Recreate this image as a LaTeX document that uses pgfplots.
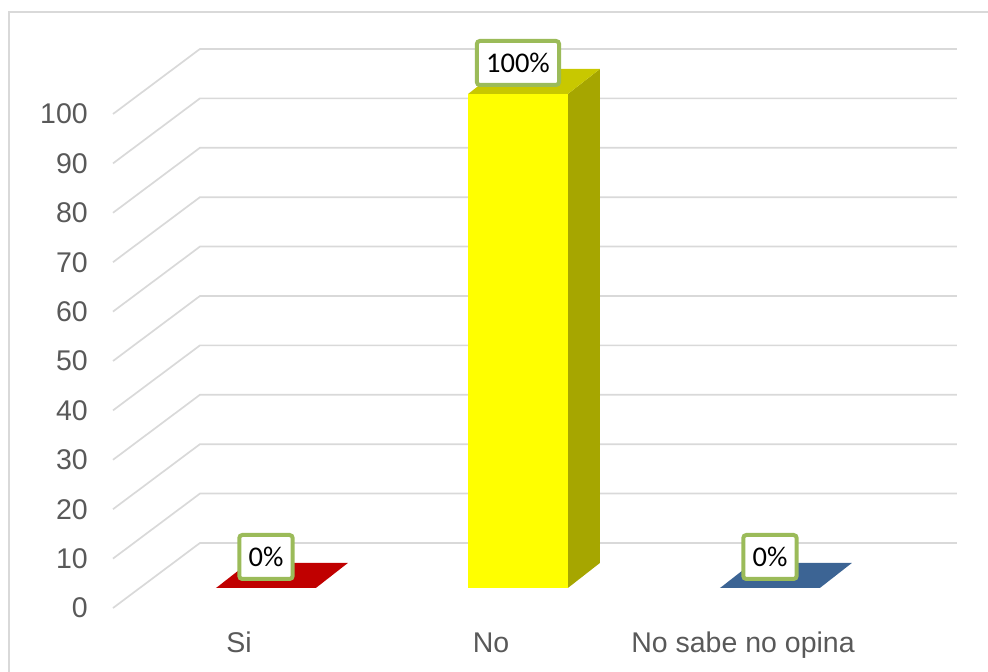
\documentclass[border=0pt]{standalone}
\usepackage{fontspec}
\setmainfont{Liberation Sans}
\newfontfamily\lblfont{Carlito}
\usepackage{pgfplots}
\pgfplotsset{compat=1.18}
\definecolor{gridc}{RGB}{217,217,217}
\definecolor{tickc}{RGB}{89,89,89}
\definecolor{sired}{RGB}{192,0,0}
\definecolor{noyel}{RGB}{255,255,0}
\definecolor{notop}{RGB}{200,200,0}
\definecolor{noside}{RGB}{166,166,0}
\definecolor{nsblue}{RGB}{60,100,148}
\definecolor{lblgreen}{RGB}{155,187,89}
\begin{document}
\begin{tikzpicture}[x=1pt,y=1pt]
\useasboundingbox (0,0) rectangle (988,672);
\draw[gridc, line width=1.8pt] (9,-2) -- (9,660) -- (990,660);
\begin{axis}[
  at={(113pt,64pt)}, anchor=south west, scale only axis,
  width=757pt, height=494pt,
  xmin=-0.607, xmax=2.397, ymin=-4.05, ymax=95.95,
  clip=false, axis line style={draw=none}, major tick length=0pt,
  ytick={-4.05,5.95,15.95,25.95,35.95,45.95,55.95,65.95,75.95,85.95,95.95},
  yticklabels={0,10,20,30,40,50,60,70,80,90,100},
  xtick={-0.107,0.893,1.893},
  xticklabels={Si,No,No sabe no opina},
  tick label style={font=\fontsize{28.5}{34}\selectfont, text=tickc, inner sep=0pt},
  yticklabel style={anchor=east, xshift=-25pt},
  xticklabel style={anchor=base, yshift=-44pt},
  /pgf/number format/assume math mode=true,
]
% back-wall grid lines (left wall + back wall)
\addplot[gridc, line width=1.7pt, mark=none] coordinates {(-0.607,-4.05) (-0.262,9.11) (2.742,9.11)};
\addplot[gridc, line width=1.7pt, mark=none] coordinates {(-0.607,5.95) (-0.262,19.11) (2.742,19.11)};
\addplot[gridc, line width=1.7pt, mark=none] coordinates {(-0.607,15.95) (-0.262,29.11) (2.742,29.11)};
\addplot[gridc, line width=1.7pt, mark=none] coordinates {(-0.607,25.95) (-0.262,39.11) (2.742,39.11)};
\addplot[gridc, line width=1.7pt, mark=none] coordinates {(-0.607,35.95) (-0.262,49.11) (2.742,49.11)};
\addplot[gridc, line width=1.7pt, mark=none] coordinates {(-0.607,45.95) (-0.262,59.11) (2.742,59.11)};
\addplot[gridc, line width=1.7pt, mark=none] coordinates {(-0.607,55.95) (-0.262,69.11) (2.742,69.11)};
\addplot[gridc, line width=1.7pt, mark=none] coordinates {(-0.607,65.95) (-0.262,79.11) (2.742,79.11)};
\addplot[gridc, line width=1.7pt, mark=none] coordinates {(-0.607,75.95) (-0.262,89.11) (2.742,89.11)};
\addplot[gridc, line width=1.7pt, mark=none] coordinates {(-0.607,85.95) (-0.262,99.11) (2.742,99.11)};
\addplot[gridc, line width=1.7pt, mark=none] coordinates {(-0.607,95.95) (-0.262,109.11) (2.742,109.11)};
% side and top faces
\addplot[fill=sired, draw=none, mark=none] coordinates {(-0.198,0) (0.198,0) (0.325,5.06) (-0.071,5.06)} -- cycle;
\addplot[fill=noside, draw=none, mark=none] coordinates {(1.198,0) (1.325,5.06) (1.325,105.06) (1.198,100)} -- cycle;
\addplot[fill=notop, draw=none, mark=none] coordinates {(0.802,100) (1.198,100) (1.325,105.06) (0.929,105.06)} -- cycle;
\addplot[fill=nsblue, draw=none, mark=none] coordinates {(1.802,0) (2.198,0) (2.325,5.06) (1.929,5.06)} -- cycle;
% front faces with data labels
\pgfplotsset{lbl/.style={
  nodes near coords={\pgfmathprintnumber{\pgfplotspointmeta}\%},
  nodes near coords style={anchor=south, yshift=7pt, draw=lblgreen, line width=4pt,
    fill=white, rounded corners=3pt, inner xsep=9.25pt, inner ysep=0pt,
    minimum height=44pt, text=black, font=\lblfont\fontsize{28.5}{34}\selectfont}}}
\addplot[ybar, bar shift=0pt, bar width=0.397, fill=sired, draw=none, lbl] coordinates {(0,0)};
\addplot[ybar, bar shift=0pt, bar width=0.397, fill=noyel, draw=none, lbl] coordinates {(1,100)};
\addplot[ybar, bar shift=0pt, bar width=0.397, fill=nsblue, draw=none, lbl] coordinates {(2,0)};
\end{axis}
\end{tikzpicture}
\end{document}
